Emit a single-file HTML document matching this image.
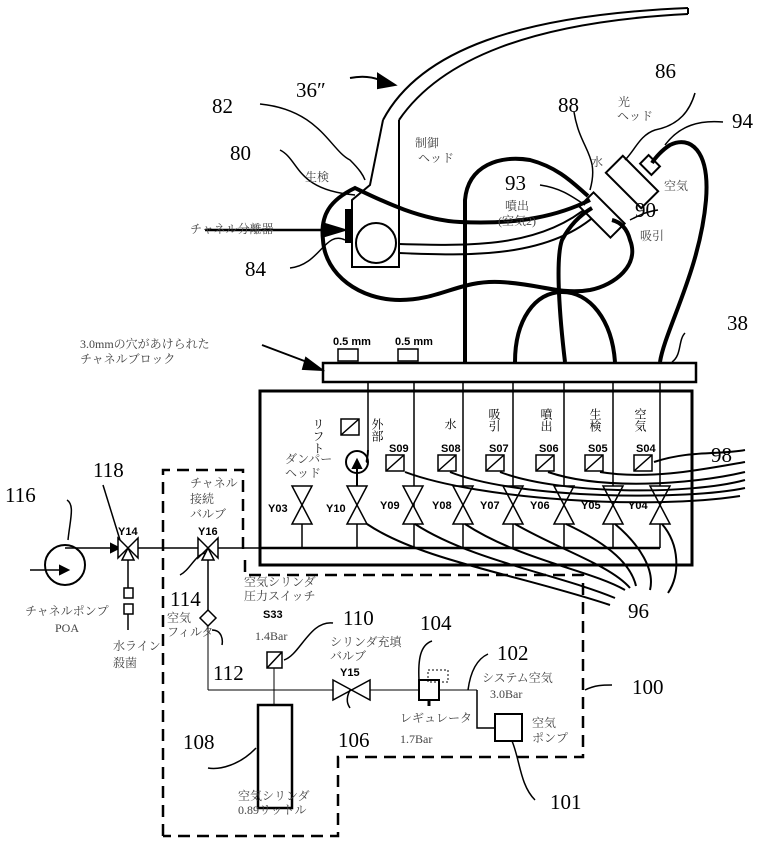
<!DOCTYPE html>
<html><head><meta charset="utf-8"><style>
html,body{margin:0;padding:0;background:#fff}
svg{display:block}
text{font-family:"Liberation Serif","Noto Serif CJK SC",serif;fill:#000}
.n{font-size:21px}
.j{font-size:12px;fill:#444}
.b{font-family:"Liberation Sans",sans-serif;font-weight:bold;font-size:11px}
</style></head><body>
<svg width="762" height="841" viewBox="0 0 762 841" xmlns="http://www.w3.org/2000/svg">
<g fill="none" stroke="#000" stroke-width="2">
<path d="M383 120 C420 50 520 15 688 8" stroke-width="2"/>
<path d="M399 120 C440 60 530 22 688 14" stroke-width="2"/>
<line x1="688" y1="8" x2="688" y2="14"/>
<path d="M399 120 L399 267 L352 267 L352 200 L370 185 L383 120"/>
<circle cx="376" cy="243" r="20"/>
<rect x="346" y="210" width="4" height="32" fill="#000"/>
<path d="M399 244 C470 246 540 248 590 205"/>
<path d="M399 253 C470 256 550 258 598 213"/>
<g transform="translate(632,182) rotate(-45)"><rect x="-12" y="-25" width="24" height="50" fill="#fff"/></g>
<g transform="translate(602,215) rotate(-45)"><rect x="-10" y="-22" width="20" height="44" fill="#fff"/></g>
<g transform="translate(650,165) rotate(-45)"><rect x="-6" y="-8" width="12" height="16" fill="#fff"/></g>
<g stroke-width="4">
<path d="M465 362 L465 200 C468 165 500 155 530 160 C560 168 575 185 588 196"/>
<path d="M590 200 C560 215 520 225 460 222 C420 220 380 200 355 188 C330 200 320 215 323 240 C325 275 360 300 400 300 C440 300 460 280 500 282 C540 284 560 295 590 290 C615 285 640 265 630 240 C627 228 620 222 612 220"/>
<path d="M515 362 C515 320 535 292 562 292 C590 292 612 320 615 362"/>
<path d="M565 362 C560 320 555 260 562 240 C570 225 580 215 592 208"/>
<path d="M660 362 C665 330 700 270 706 200 C710 150 690 135 670 145 C662 150 655 158 652 163"/>
</g>
<path d="M260 104 C320 110 330 150 350 160 C360 170 363 175 365 180" stroke-width="1.5"/>
<path d="M280 150 C300 160 295 190 355 195" stroke-width="1.5"/>
<path d="M290 268 C320 265 325 230 345 240" stroke-width="1.5"/>
<path d="M205 230 L335 230" stroke-width="2.5"/>
<path d="M325 224 L345 230 L325 236 Z" fill="#000"/>
<path d="M350 78 C360 76 370 76 380 80" stroke-width="2"/>
<path d="M378 74 L395 85 L378 88 Z" fill="#000"/>
<path d="M574 112 C580 150 600 155 590 190" stroke-width="1.5"/>
<path d="M540 185 C560 188 570 195 585 205" stroke-width="1.5"/>
<path d="M695 93 C690 110 680 125 655 130 C640 135 635 150 625 160" stroke-width="1.5"/>
<path d="M723 122 C700 120 680 125 665 145" stroke-width="1.5"/>
<path d="M658 210 C645 212 640 215 630 220" stroke-width="1.5"/>
<path d="M685 333 C678 340 682 355 672 362" stroke-width="1.5"/>
<path d="M262 345 L315 365" stroke-width="2"/>
<path d="M306 358 L322 370 L303 369 Z" fill="#000"/>
<rect x="323" y="363" width="373" height="19" stroke-width="2.5"/>
<rect x="338" y="349" width="20" height="12" stroke-width="1.5"/>
<rect x="398" y="349" width="20" height="12" stroke-width="1.5"/>
<rect x="260" y="391" width="432" height="174" stroke-width="3"/>
<line x1="260" y1="548" x2="660" y2="548" stroke-width="2.5"/>
<g stroke-width="1.5">
<line x1="368" y1="382" x2="368" y2="450"/>
<line x1="414" y1="382" x2="414" y2="548"/>
<line x1="463" y1="382" x2="463" y2="548"/>
<line x1="513" y1="382" x2="513" y2="548"/>
<line x1="564" y1="382" x2="564" y2="548"/>
<line x1="613" y1="382" x2="613" y2="548"/>
<line x1="660" y1="382" x2="660" y2="548"/>
</g>
<g stroke-width="1.5" fill="#fff">
<path d="M292 486 L312 486 L292 524 L312 524 Z"/><line x1="302" y1="524" x2="302" y2="548"/>
<path d="M347 486 L367 486 L347 524 L367 524 Z"/><line x1="357" y1="524" x2="357" y2="548"/>
<path d="M403 486 L423 486 L403 524 L423 524 Z"/>
<path d="M453 486 L473 486 L453 524 L473 524 Z"/>
<path d="M503 486 L523 486 L503 524 L523 524 Z"/>
<path d="M554 486 L574 486 L554 524 L574 524 Z"/>
<path d="M603 486 L623 486 L603 524 L623 524 Z"/>
<path d="M650 486 L670 486 L650 524 L670 524 Z"/>
</g>
<circle cx="357" cy="462" r="11" stroke-width="2"/>
<line x1="357" y1="486" x2="357" y2="462"/>
<path d="M353 468 L357 460 L361 468 Z" fill="#000"/>
<path d="M368 450 C368 460 365 462 368 462"/>
<g stroke-width="1.5" fill="#fff">
<rect x="341" y="419" width="18" height="16"/><line x1="341" y1="435" x2="359" y2="419"/>
<rect x="386" y="455" width="18" height="16"/><line x1="386" y1="471" x2="404" y2="455"/>
<rect x="438" y="455" width="18" height="16"/><line x1="438" y1="471" x2="456" y2="455"/>
<rect x="486" y="455" width="18" height="16"/><line x1="486" y1="471" x2="504" y2="455"/>
<rect x="536" y="455" width="18" height="16"/><line x1="536" y1="471" x2="554" y2="455"/>
<rect x="585" y="455" width="18" height="16"/><line x1="585" y1="471" x2="603" y2="455"/>
<rect x="634" y="455" width="18" height="16"/><line x1="634" y1="471" x2="652" y2="455"/>
</g>
<g stroke-width="2">
<path d="M654 462 C690 450 720 455 745 450"/>
<path d="M600 472 C650 480 700 470 745 462"/>
<path d="M548 472 C600 490 690 485 745 472"/>
<path d="M500 472 C560 495 690 495 745 480"/>
<path d="M450 472 C520 500 690 500 745 488"/>
<path d="M405 472 C480 500 650 510 740 496"/>
<path d="M367 524 C420 560 520 575 610 605"/>
<path d="M415 524 C470 560 560 575 615 598"/>
<path d="M465 524 C520 560 590 570 625 590"/>
<path d="M515 524 C560 550 610 565 630 588"/>
<path d="M566 524 C600 540 630 560 636 586"/>
<path d="M615 524 C640 545 655 570 650 590"/>
<path d="M662 524 C680 545 680 575 668 593"/>
</g>
<circle cx="65" cy="565" r="20" stroke-width="2"/>
<line x1="30" y1="570" x2="65" y2="570" stroke-width="1.5"/>
<path d="M60 566 L68 570 L60 574 Z" fill="#000"/>
<line x1="65" y1="548" x2="118" y2="548" stroke-width="1.5"/>
<path d="M111 544 L119 548 L111 552 Z" fill="#000"/>
<path d="M118 538 L138 558 L138 538 L118 558 Z" stroke-width="1.5" fill="#fff"/>
<path d="M128 548 L122 560 L134 560 Z" stroke-width="1.5"/>
<line x1="128" y1="560" x2="128" y2="588" stroke-width="1.5"/>
<rect x="124" y="588" width="9" height="10" stroke-width="1.5"/>
<rect x="124" y="604" width="9" height="10" stroke-width="1.5"/>
<line x1="128" y1="614" x2="128" y2="630" stroke-width="1.5"/>
<line x1="138" y1="548" x2="198" y2="548" stroke-width="1.5"/>
<path d="M198 538 L218 558 L218 538 L198 558 Z" stroke-width="1.5" fill="#fff"/>
<path d="M208 548 L202 560 L214 560 Z" stroke-width="1.5"/>
<line x1="218" y1="548" x2="260" y2="548" stroke-width="1.5"/>
<path d="M67 500 C75 505 70 520 68 540" stroke-width="1.5"/>
<path d="M103 485 L120 540" stroke-width="1.5"/>
<path d="M180 575 C190 570 195 555 205 553" stroke-width="1.5"/>
<line x1="208" y1="560" x2="208" y2="610" stroke-width="1.5"/>
<path d="M208 610 L216 618 L208 626 L200 618 Z" stroke-width="1.5"/>
<line x1="208" y1="626" x2="208" y2="690" stroke-width="1"/>
<path d="M212 630 C222 630 223 640 222 645" stroke-width="1.5"/>
<line x1="208" y1="690" x2="335" y2="690" stroke-width="1"/>
<rect x="267" y="652" width="15" height="16" stroke-width="1.5"/><line x1="267" y1="668" x2="282" y2="652" stroke-width="1.5"/>
<line x1="274" y1="668" x2="274" y2="705" stroke-width="1"/>
<path d="M284 660 C300 655 310 620 333 623" stroke-width="1.5"/>
<rect x="258" y="705" width="34" height="103" stroke-width="2.5"/>
<path d="M208 768 C220 770 240 765 256 748" stroke-width="1.5"/>
<path d="M333 680 L370 700 L370 680 L333 700 Z" stroke-width="1.5" fill="#fff"/>
<path d="M350 690 C345 700 348 705 350 708" stroke-width="1.5"/>
<line x1="370" y1="690" x2="419" y2="690" stroke-width="1"/>
<rect x="419" y="680" width="20" height="20" stroke-width="2"/>
<rect x="428" y="670" width="20" height="12" stroke-width="1" stroke-dasharray="2,2"/>
<line x1="429" y1="700" x2="429" y2="706" stroke-width="3"/>
<line x1="439" y1="690" x2="477" y2="690" stroke-width="1"/>
<path d="M477 690 L477 728 L495 728" stroke-width="1.5"/>
<rect x="495" y="714" width="27" height="27" stroke-width="2"/>
<path d="M432 641 C420 645 418 660 419 680" stroke-width="1.5"/>
<path d="M488 654 C475 660 470 675 468 690" stroke-width="1.5"/>
<path d="M512 741 C520 760 520 785 535 800" stroke-width="1.5"/>
<path d="M585 690 C595 685 603 685 612 685" stroke-width="1.5"/>
<path d="M163 836 L163 470 L243 470 L243 555" stroke-width="2.5" stroke-dasharray="12,7"/>
<path d="M245 560 L245 575 L583 575 L583 757 L338 757 L338 836 L163 836" stroke-width="2.5" stroke-dasharray="12,7"/>
</g>
<text class="n" x="296" y="97">36″</text>
<text class="n" x="212" y="113">82</text>
<text class="n" x="230" y="160">80</text>
<text class="n" x="245" y="276">84</text>
<text class="n" x="558" y="112">88</text>
<text class="n" x="655" y="78">86</text>
<text class="n" x="732" y="128">94</text>
<text class="n" x="505" y="190">93</text>
<text class="n" x="635" y="217">90</text>
<text class="n" x="727" y="330">38</text>
<text class="n" x="711" y="462">98</text>
<text class="n" x="628" y="618">96</text>
<text class="n" x="93" y="477">118</text>
<text class="n" x="5" y="502">116</text>
<text class="n" x="170" y="606">114</text>
<text class="n" x="213" y="680">112</text>
<text class="n" x="343" y="625">110</text>
<text class="n" x="420" y="630">104</text>
<text class="n" x="497" y="660">102</text>
<text class="n" x="632" y="694">100</text>
<text class="n" x="183" y="749">108</text>
<text class="n" x="338" y="747">106</text>
<text class="n" x="550" y="809">101</text>
<text class="j" x="415" y="147" font-size="14">制御</text>
<text class="j" x="418" y="162">ヘッド</text>
<text class="j" x="305" y="181" font-size="13">生検</text>
<text class="j" x="190" y="233" font-size="11">チャネル分離器</text>
<text class="j" x="505" y="210" font-size="13">噴出</text>
<text class="j" x="498" y="225" font-size="12">(空気2)</text>
<text class="j" x="591" y="166" font-size="13">水</text>
<text class="j" x="618" y="106" font-size="13">光</text>
<text class="j" x="617" y="120">ヘッド</text>
<text class="j" x="664" y="190" font-size="13">空気</text>
<text class="j" x="640" y="240" font-size="13">吸引</text>
<text class="j" x="80" y="348">3.0mmの穴があけられた</text>
<text class="j" x="80" y="363" font-size="10">チャネルブロック</text>
<text class="b" x="333" y="345" font-size="8">0.5 mm</text>
<text class="b" x="395" y="345" font-size="8">0.5 mm</text>
<g class="j" font-size="15">
<text x="377" y="418" writing-mode="tb">外部</text>
<text x="450" y="418" writing-mode="tb">水</text>
<text x="494" y="408" writing-mode="tb">吸引</text>
<text x="546" y="408" writing-mode="tb">噴出</text>
<text x="595" y="408" writing-mode="tb">生検</text>
<text x="640" y="408" writing-mode="tb">空気</text>
<text x="318" y="418" writing-mode="tb" font-size="12">リフト</text>
</g>
<text class="j" x="285" y="463" font-size="11">ダンパー</text>
<text class="j" x="285" y="477" font-size="11">ヘッド</text>
<text class="b" x="268" y="512">Y03</text>
<text class="b" x="326" y="512">Y10</text>
<text class="b" x="380" y="509">Y09</text>
<text class="b" x="432" y="509">Y08</text>
<text class="b" x="480" y="509">Y07</text>
<text class="b" x="530" y="509">Y06</text>
<text class="b" x="581" y="509">Y05</text>
<text class="b" x="628" y="509">Y04</text>
<text class="b" x="389" y="452" font-size="9">S09</text>
<text class="b" x="441" y="452" font-size="9">S08</text>
<text class="b" x="489" y="452" font-size="9">S07</text>
<text class="b" x="539" y="452" font-size="9">S06</text>
<text class="b" x="588" y="452" font-size="9">S05</text>
<text class="b" x="636" y="452" font-size="9">S04</text>
<text class="b" x="118" y="535">Y14</text>
<text class="b" x="198" y="535">Y16</text>
<text class="j" x="190" y="487" font-size="10">チャネル</text>
<text class="j" x="190" y="503" font-size="14">接続</text>
<text class="j" x="190" y="518" font-size="10">バルブ</text>
<text class="j" x="25" y="615" font-size="10">チャネルポンプ</text>
<text class="j" x="55" y="632">POA</text>
<text class="j" x="113" y="650" font-size="14">水ライン</text>
<text class="j" x="113" y="667" font-size="14">殺菌</text>
<text class="j" x="167" y="622" font-size="12">空気</text>
<text class="j" x="167" y="636" font-size="10">フィルタ</text>
<text class="j" x="244" y="586" font-size="11">空気シリンダ</text>
<text class="j" x="244" y="600" font-size="11">圧力スイッチ</text>
<text class="b" x="263" y="618">S33</text>
<text class="j" x="255" y="640" font-size="11">1.4Bar</text>
<text class="j" x="330" y="646" font-size="11">シリンダ充填</text>
<text class="j" x="330" y="660" font-size="11">バルブ</text>
<text class="b" x="340" y="676">Y15</text>
<text class="j" x="400" y="722" font-size="11">レギュレータ</text>
<text class="j" x="400" y="743" font-size="11">1.7Bar</text>
<text class="j" x="482" y="682" font-size="11">システム空気</text>
<text class="j" x="490" y="698" font-size="11">3.0Bar</text>
<text class="j" x="532" y="727" font-size="12">空気</text>
<text class="j" x="532" y="742" font-size="10">ポンプ</text>
<text class="j" x="238" y="800" font-size="12">空気シリンダ</text>
<text class="j" x="238" y="814" font-size="12">0.89リットル</text>
</svg>
</body></html>
